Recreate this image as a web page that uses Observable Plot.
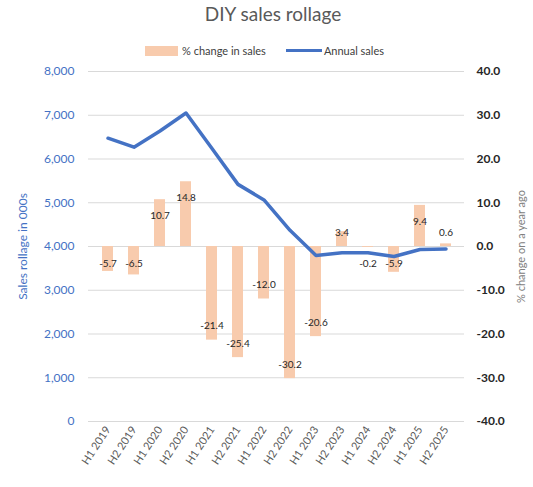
<!DOCTYPE html>
<html>
<head>
<meta charset="utf-8">
<script src="https://cdn.jsdelivr.net/npm/d3@7"></script>
<script src="https://cdn.jsdelivr.net/npm/@observablehq/plot@0.6"></script>
<style>
  body { margin: 0; background: #fff; font-family: Lato, "Open Sans", sans-serif; }
  #wrap { position: relative; width: 533px; height: 487px; }
  #title { position: absolute; top: 2px; left: 0; width: 546px; text-align: center; font-size: 19px; color: #595959; }
  #legend { position: absolute; top: 44px; left: 145px; display: flex; align-items: center; font-size: 11px; color: #404040; }
  .sw { display: inline-block; }
  #chart { position: absolute; top: 62px; left: 0; }
</style>
</head>
<body>
<div id="wrap">
  <div id="title">DIY sales rollage</div>
  <div id="legend">
    <span class="sw" style="width:33px;height:10px;background:#F8CBAD;margin-right:4px"></span><span>% change in sales</span>
    <span class="sw" style="width:36px;height:3px;background:#4472C4;margin-left:20px;margin-right:2px"></span><span>Annual sales</span>
  </div>
  <div id="chart"></div>
</div>
<script>
const periods = ["H1 2019","H2 2019","H1 2020","H2 2020","H1 2021","H2 2021","H1 2022","H2 2022","H1 2023","H2 2023","H1 2024","H2 2024","H1 2025","H2 2025"];
const annualSales = [6475, 6270, 6640, 7050, 6240, 5420, 5065, 4370, 3795, 3855, 3855, 3770, 3930, 3945];
const pctChange = [-5.7, -6.5, 10.7, 14.8, -21.4, -25.4, -12.0, -30.2, -20.6, 3.4, -0.2, -5.9, 9.4, 0.6];
const leftTicks = [0, 1000, 2000, 3000, 4000, 5000, 6000, 7000, 8000];
const rightTicks = [-40, -30, -20, -10, 0, 10, 20, 30, 40];

// right axis (pct) mapped onto left scale: pct -40..40 -> 0..8000
const toLeft = p => 4000 + p * 100;
const rows = periods.map((p, i) => ({period: p, sales: annualSales[i], pct: pctChange[i]}));
const labelPos = p => p >= 0 ? Math.max(p - 3.66, 3.2) : Math.min(p + 3.2, -3.9);

const chart = Plot.plot({
  width: 533,
  height: 425,
  marginTop: 9,
  marginBottom: 66,
  marginLeft: 88,
  marginRight: 69,
  style: {fontFamily: "Lato, 'Open Sans', sans-serif", fontSize: "11px", background: "#fff"},
  x: {type: "band", domain: periods, paddingInner: 0.58, paddingOuter: 0.29},
  y: {domain: [0, 8000]},
  marks: [
    Plot.ruleY(leftTicks, {stroke: "#d9d9d9", strokeWidth: 1}),
    Plot.barY(rows, {x: "period", y1: () => 4000, y2: d => toLeft(d.pct), fill: "#F8CBAD"}),
    Plot.text(rows, {x: "period", y: d => toLeft(labelPos(d.pct)), text: d => d.pct.toFixed(1), fill: "#262626", fontSize: 10}),
    Plot.line(rows, {x: "period", y: "sales", stroke: "#4472C4", strokeWidth: 3.5, strokeLinejoin: "round", strokeLinecap: "round"}),
    Plot.axisY(leftTicks, {anchor: "left", tickSize: 0, tickPadding: 14, tickFormat: d3.format(","), fill: "#4472C4", fontSize: 12,
      label: "Sales rollage in 000s", labelAnchor: "center", labelArrow: "none", labelOffset: 70}),
    Plot.axisY(rightTicks.map(toLeft), {anchor: "right", tickSize: 0, tickPadding: 12, tickFormat: d => ((d - 4000) / 100).toFixed(1), fill: "#262626", fontSize: 12, fontWeight: "bold",
      label: null}),
    Plot.axisY({anchor: "right", ticks: [], label: "% change on a year ago", labelAnchor: "center", labelArrow: "none", labelOffset: 60, color: "#808080"}),
    Plot.axisX({tickSize: 0, tickPadding: 6, tickRotate: -57, fill: "#595959", fontSize: 11, label: null})
  ]
});
document.getElementById("chart").appendChild(chart);
</script>
</body>
</html>
